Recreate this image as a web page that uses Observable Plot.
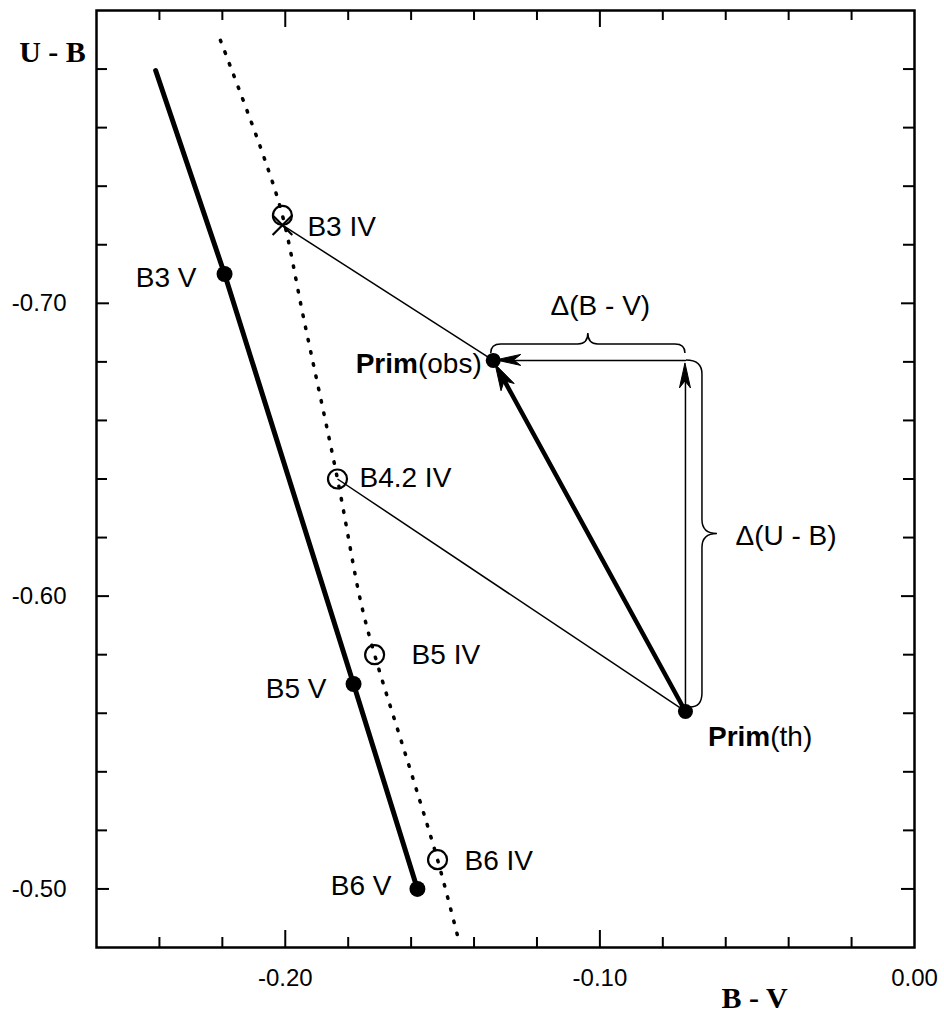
<!DOCTYPE html>
<html>
<head>
<meta charset="utf-8">
<script src="https://cdn.jsdelivr.net/npm/d3@7"></script>
<script src="https://cdn.jsdelivr.net/npm/@observablehq/plot@0.6"></script>
<style>
  html, body { margin: 0; padding: 0; background: #fff; }
  #chart svg { display: block; }
</style>
</head>
<body>
<div id="chart"></div>
<script>
// ---------- data ----------
// class V track (thick solid line)
const mainSeqBV = [-0.2412, -0.2193, -0.1783, -0.1580];
const mainSeqUB = [-0.7795, -0.7100, -0.5700, -0.5000];
// class IV track (dotted line)
const ivTrackBV = [-0.2206, -0.2072, -0.2009, -0.1942, -0.1834, -0.1761, -0.1716, -0.1592, -0.1516, -0.1446];
const ivTrackUB = [-0.7898, -0.7512, -0.7300, -0.6951, -0.6400, -0.5985, -0.5800, -0.5370, -0.5100, -0.4813];
// labelled class V stars (filled dots)
const vNames = ["B3 V", "B5 V", "B6 V"];
const vBV = [-0.2193, -0.1783, -0.1580];
const vUB = [-0.7100, -0.5700, -0.5000];
// labelled class IV stars (open circles)
const ivNames = ["B3 IV", "B4.2 IV", "B5 IV", "B6 IV"];
const ivBV = [-0.2009, -0.1834, -0.1716, -0.1516];
const ivUB = [-0.7300, -0.6400, -0.5800, -0.5100];
// cross marker at B3 IV
const crossBV = [-0.2009];
const crossUB = [-0.7267];
// primary: observed and theoretical
const primNames = ["obs", "th"];
const primBV = [-0.1339, -0.0728];
const primUB = [-0.6805, -0.5606];
// axes
const xDomain = [-0.26, 0.00];
const yDomain = [-0.80, -0.48];
const xMinorTicks = [-0.24, -0.22, -0.18, -0.16, -0.14, -0.12, -0.08, -0.06, -0.04, -0.02];
const xMajorTicks = [-0.20, -0.10];
const xTickValues = [-0.20, -0.10, 0.00];
const xTickLabels = ["-0.20", "-0.10", "0.00"];
const yMinorTicks = [-0.78, -0.76, -0.74, -0.72, -0.68, -0.66, -0.64, -0.62, -0.58, -0.56, -0.54, -0.52];
const yMajorTicks = [-0.70, -0.60, -0.50];
const yTickLabels = ["-0.70", "-0.60", "-0.50"];
const xTitle = "B - V";
const yTitle = "U - B";
const deltaBVLabel = "\u0394(B - V)";
const deltaUBLabel = "\u0394(U - B)";

// ---------- derived tables ----------
const mainSeq = mainSeqBV.map((x, i) => ({x, y: mainSeqUB[i]}));
const ivTrack = ivTrackBV.map((x, i) => ({x, y: ivTrackUB[i]}));
const vStars = vNames.map((name, i) => ({name, x: vBV[i], y: vUB[i]}));
const ivStars = ivNames.map((name, i) => ({name, x: ivBV[i], y: ivUB[i]}));
const cross = crossBV.map((x, i) => ({x, y: crossUB[i]}));
const prim = Object.fromEntries(primNames.map((n, i) => [n, {x: primBV[i], y: primUB[i]}]));
const B42IV = ivStars[1];
const corner = {x: prim.th.x, y: prim.obs.y};

// thin connecting lines
const connectors = [
  {x1: cross[0].x, y1: cross[0].y, x2: prim.obs.x, y2: prim.obs.y},
  {x1: B42IV.x, y1: B42IV.y, x2: prim.th.x, y2: prim.th.y}
];
// arrows
const thickArrow = [{x1: prim.th.x, y1: prim.th.y, x2: prim.obs.x, y2: prim.obs.y}];
const thinArrows = [
  {x1: corner.x, y1: corner.y, x2: prim.obs.x, y2: prim.obs.y},
  {x1: prim.th.x, y1: prim.th.y, x2: corner.x, y2: corner.y}
];

const W = 944, H = 1014;
const mT = 10, mB = 67, mL = 96, mR = 30;
const plotH = H - mT - mB, plotW = W - mL - mR;
const FONT = "'Liberation Sans', Arial, Helvetica, sans-serif";
const SERIF = "'Liberation Serif', 'Times New Roman', serif";
const LBL = 28;   // annotation font size
const TCK = 24;   // tick label font size

// label offsets (style)
const vLabelOffsets = {"B3 V": [-28, 4], "B5 V": [-27, 5], "B6 V": [-26, -3]};
const ivLabelOffsets = {"B3 IV": [25, 12], "B4.2 IV": [22, -1], "B5 IV": [37, 0], "B6 IV": [27, 1]};

// render-function mark: arrowheads (stealth shape)
function arrowHeads(list, len, halfW, inset) {
  return (index, scales) => {
    const g = d3.create("svg:g");
    for (const a of list) {
      const x1 = scales.x(a.x1), y1 = scales.y(a.y1), x2 = scales.x(a.x2), y2 = scales.y(a.y2);
      const ang = Math.atan2(y2 - y1, x2 - x1), c = Math.cos(ang), s = Math.sin(ang);
      const tx = x2 - inset * c, ty = y2 - inset * s;
      const bx = tx - len * c, by = ty - len * s;
      const nx = -s, ny = c;
      const notch = len * 0.72;
      const p = `M${tx},${ty}L${bx + nx * halfW},${by + ny * halfW}L${tx - notch * c},${ty - notch * s}L${bx - nx * halfW},${by - ny * halfW}Z`;
      g.append("path").attr("d", p).attr("fill", "black").attr("stroke", "black").attr("stroke-width", 1).attr("stroke-linejoin", "miter");
    }
    return g.node();
  };
}

// render-function mark: curly braces
function braces() {
  return (index, scales) => {
    const g = d3.create("svg:g").attr("fill", "none").attr("stroke", "black").attr("stroke-width", 1.5);
    // horizontal brace above the Δ(B-V) arrow
    {
      const x0 = scales.x(prim.obs.x) - 2, x1 = scales.x(corner.x), y0 = scales.y(corner.y) - 7;
      const d = 9, c = 11, r = 10, xm = (x0 + x1) / 2;
      const p = `M${x0},${y0}Q${x0},${y0 - d} ${x0 + r},${y0 - d}L${xm - r},${y0 - d}Q${xm},${y0 - d} ${xm},${y0 - d - c}Q${xm},${y0 - d} ${xm + r},${y0 - d}L${x1 - r},${y0 - d}Q${x1},${y0 - d} ${x1},${y0}`;
      g.append("path").attr("d", p);
    }
    // vertical brace right of the Δ(U-B) arrow
    {
      const x0 = scales.x(corner.x) + 1, y0 = scales.y(corner.y), y1 = scales.y(prim.th.y) - 4;
      const d = 16, c = 15, r = 14, ym = (y0 + y1) / 2;
      const p = `M${x0},${y0}Q${x0 + d},${y0} ${x0 + d},${y0 + r}L${x0 + d},${ym - r}Q${x0 + d},${ym} ${x0 + d + c},${ym}Q${x0 + d},${ym} ${x0 + d},${ym + r}L${x0 + d},${y1 - r}Q${x0 + d},${y1} ${x0 + 4},${y1}`;
      g.append("path").attr("d", p);
    }
    return g.node();
  };
}

// render-function mark: rich "Prim(...)" labels with bold part
function primLabel(pt, sub, anchor, dx, dy) {
  return (index, scales) => {
    const t = d3.create("svg:text")
      .attr("x", scales.x(pt.x) + dx).attr("y", scales.y(pt.y) + dy)
      .attr("text-anchor", anchor).attr("dy", "0.35em")
      .attr("font-family", FONT).attr("font-size", LBL).attr("fill", "black");
    t.append("tspan").attr("font-weight", "bold").text("Prim");
    t.append("tspan").text(`(${sub})`);
    return t.node();
  };
}

const txt = {fontFamily: FONT, fill: "black"};

const marks = [
  Plot.frame({stroke: "black", strokeWidth: 2.5}),
  // ticks (inward, all four sides)
  Plot.tickX(xMinorTicks, {x: d => d, insetTop: plotH - 10, strokeWidth: 2}),
  Plot.tickX(xMajorTicks, {x: d => d, insetTop: plotH - 17, strokeWidth: 2}),
  Plot.tickX(xMinorTicks, {x: d => d, insetBottom: plotH - 10, strokeWidth: 2}),
  Plot.tickX(xMajorTicks, {x: d => d, insetBottom: plotH - 17, strokeWidth: 2}),
  Plot.tickY(yMinorTicks, {y: d => d, insetRight: plotW - 11, strokeWidth: 2}),
  Plot.tickY(yMajorTicks, {y: d => d, insetRight: plotW - 13, strokeWidth: 2}),
  Plot.tickY(yMinorTicks, {y: d => d, insetLeft: plotW - 11, strokeWidth: 2}),
  Plot.tickY(yMajorTicks, {y: d => d, insetLeft: plotW - 13, strokeWidth: 2}),
  // tick labels
  Plot.text(xTickValues, {x: d => d, text: (d, i) => xTickLabels[i], frameAnchor: "bottom", dy: 38, fontSize: TCK, ...txt}),
  Plot.text(yMajorTicks, {y: d => d, text: (d, i) => yTickLabels[i], frameAnchor: "left", dx: -30, textAnchor: "end", fontSize: TCK, ...txt}),
  // axis titles
  Plot.text([yTitle], {text: d => d, frameAnchor: "top-left", dx: -44, dy: 30, textAnchor: "middle", fontFamily: SERIF, fontWeight: "bold", fontSize: 30, fill: "black"}),
  Plot.text([xTitle], {text: d => d, frameAnchor: "bottom-right", dx: -160, dy: 60, textAnchor: "middle", fontFamily: SERIF, fontWeight: "bold", fontSize: 30, fill: "black"}),
  // tracks
  Plot.line(ivTrack, {x: "x", y: "y", curve: "catmull-rom", stroke: "black", strokeWidth: 3.5, strokeDasharray: "1.5,11", strokeLinecap: "round"}),
  Plot.line(mainSeq, {x: "x", y: "y", stroke: "black", strokeWidth: 5, strokeLinecap: "round", strokeLinejoin: "round"}),
  // thin connectors
  Plot.link(connectors, {x1: "x1", y1: "y1", x2: "x2", y2: "y2", stroke: "black", strokeWidth: 1.5}),
  // arrows: shafts
  Plot.arrow(thickArrow, {x1: "x1", y1: "y1", x2: "x2", y2: "y2", stroke: "black", strokeWidth: 4.5, headLength: 0, insetEnd: 20}),
  Plot.arrow(thinArrows, {x1: "x1", y1: "y1", x2: "x2", y2: "y2", stroke: "black", strokeWidth: 1.5, headLength: 0, insetEnd: 10}),
  // arrow heads
  arrowHeads(thickArrow, 26, 7.5, 5),
  arrowHeads(thinArrows, 25, 5.5, 3),
  // braces
  braces(),
  // points
  Plot.dot(ivStars, {x: "x", y: "y", r: 9.5, stroke: "black", strokeWidth: 2.2, fill: "none"}),
  Plot.dot(cross, {x: "x", y: "y", symbol: "times", r: 9, stroke: "black", strokeWidth: 2.2}),
  Plot.dot(vStars, {x: "x", y: "y", r: 8, fill: "black", stroke: "none"}),
  Plot.dot([prim.obs, prim.th], {x: "x", y: "y", r: 7.5, fill: "black", stroke: "none"}),
  // star labels
  ...vStars.map(s => Plot.text([s], {x: "x", y: "y", text: "name", textAnchor: "end", dx: vLabelOffsets[s.name][0], dy: vLabelOffsets[s.name][1], fontSize: LBL, ...txt})),
  ...ivStars.map(s => Plot.text([s], {x: "x", y: "y", text: "name", textAnchor: "start", dx: ivLabelOffsets[s.name][0], dy: ivLabelOffsets[s.name][1], fontSize: LBL, ...txt})),
  // Δ labels
  Plot.text([{x: (prim.obs.x + corner.x) / 2, y: corner.y}], {x: "x", y: "y", text: () => deltaBVLabel, dx: 11, dy: -54, fontSize: LBL, ...txt}),
  Plot.text([{x: corner.x, y: (corner.y + prim.th.y) / 2}], {x: "x", y: "y", text: () => deltaUBLabel, dx: 50, dy: 0, textAnchor: "start", fontSize: LBL, ...txt}),
  // Prim labels
  primLabel(prim.obs, "obs", "end", -11, 3),
  primLabel(prim.th, "th", "start", 23, 25)
];

const chart = Plot.plot({
  width: W, height: H,
  marginTop: mT, marginBottom: mB, marginLeft: mL, marginRight: mR,
  x: {domain: xDomain, axis: null},
  y: {domain: yDomain, reverse: true, axis: null},
  style: {background: "white", color: "black", fontFamily: FONT, overflow: "visible"},
  marks
});
document.getElementById("chart").append(chart);
</script>
</body>
</html>
